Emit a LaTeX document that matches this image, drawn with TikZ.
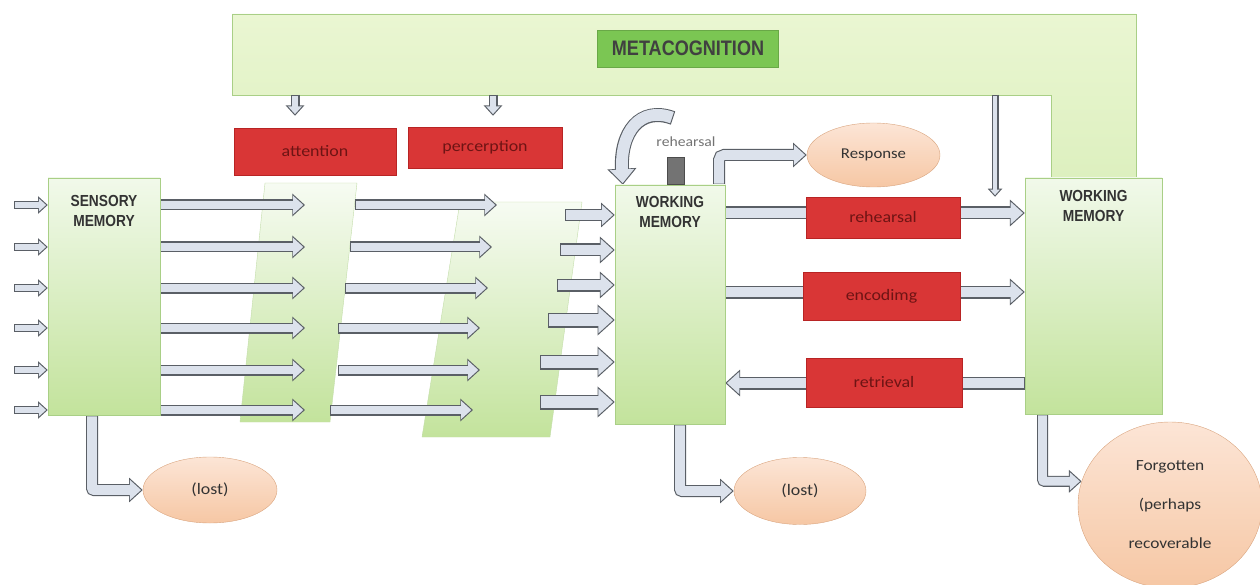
\documentclass[tikz,border=0pt]{standalone}
\usepackage{fontspec}
\setmainfont{Carlito}
\newfontfamily\labelfont{Carlito}[FakeStretch=1.12]
\newfontfamily\capsfont{Liberation Sans}[FakeStretch=0.86]
\usepackage{tikz}
\usetikzlibrary{arrows.meta, positioning, calc, shapes.geometric}

\definecolor{arrowfill}{HTML}{DCE2EC}
\definecolor{arrowedge}{HTML}{5A5F66}
\definecolor{gtop}{HTML}{F1F9EA}
\definecolor{gbot}{HTML}{C3E39C}
\definecolor{gedge}{HTML}{A9CF86}
\definecolor{redfill}{HTML}{D93636}
\definecolor{rededge}{HTML}{B82424}
\definecolor{redtext}{HTML}{6E1414}
\definecolor{peachtop}{HTML}{FCE5D6}
\definecolor{peachbot}{HTML}{F6C7A4}
\definecolor{peachedge}{HTML}{D9A47E}
\definecolor{metagreen}{HTML}{7BC653}
\definecolor{bandtop}{HTML}{EAF6D2}
\definecolor{bandbot}{HTML}{DDF0BF}

\pgfdeclarelayer{back}
\pgfdeclarelayer{mid}
\pgfsetlayers{back,mid,main}

\begin{document}
\begin{tikzpicture}[
        x=1pt, y=-1pt,
        membox/.style={rectangle, draw=gedge, top color=gtop, bottom color=gbot, inner sep=0pt},
        memtext/.style={font=\capsfont\bfseries\fontsize{16}{20}\selectfont, text=black!80, align=center},
        metabox/.style={rectangle, draw=metagreen!85!black, fill=metagreen, font=\capsfont\bfseries\fontsize{21}{24}\selectfont, text=black!75, minimum width=181pt, minimum height=37pt},
        process/.style={rectangle, draw=rededge, fill=redfill, font=\labelfont\fontsize{16}{19}\selectfont, text=redtext, inner sep=0pt},
        outcome/.style={ellipse, draw=peachedge, top color=peachtop, bottom color=peachbot, font=\labelfont\fontsize{16}{19}\selectfont, text=black!80, inner sep=0pt, align=center},
        stage/.style={draw=gedge!70, top color=gtop!60!white, bottom color=gbot},
        stub/.style={rectangle, draw=black!70, fill=black!55, minimum width=17pt, minimum height=27pt, inner sep=0pt},
        blockarrow/.style={draw=arrowfill, line width=#1-2.2,
            -{Triangle[length=0pt 1.15, width=0pt 2]}, shorten >=1.7pt, shorten <=1.1pt,
            preaction={draw=arrowedge, line width=#1, -{Triangle[length=0pt 1.15, width=0pt 2]}, shorten >=0pt, shorten <=0pt}},
        blockarrow/.default=11
    ]
    \useasboundingbox (0,0) rectangle (1260,585);

    % metacognition band and the two stages
    \begin{pgfonlayer}{back}
    \path[draw=gedge, top color=bandtop, bottom color=bandbot] (232,14) -- (1136,14) -- (1136,177) -- (1051,177) -- (1051,95) -- (232,95) -- cycle;
    \path[stage] (265,183) -- (357,183) -- (330,422) -- (240,422) -- cycle;
    \path[stage] (460,202) -- (582,202) -- (550,437) -- (422,437) -- cycle;
    \end{pgfonlayer}
    \coordinate (m1) at (295,95);
    \coordinate (m2) at (493,95);
    \coordinate (m3) at (995,95);
    \node[metabox] (meta) at (688,48.5) {METACOGNITION};

    \node[process, minimum width=162pt, minimum height=47pt] (attn) at (315,151.5) {attention};
    \node[process, minimum width=154pt, minimum height=41pt] (perc) at (485,147.5) {percerption};

    \node[membox, minimum width=112pt, minimum height=237pt] (sens) at (104,296.5) {};
    \node[memtext] (senstxt) at ($(sens.north)+(0,33)$) {SENSORY\\MEMORY};
    \node[membox, minimum width=110pt, minimum height=239pt] (wm) at (670,304.5) {};
    \node[memtext] (wmtxt) at ($(wm.north)+(0,27)$) {WORKING\\MEMORY};
    \node[membox, minimum width=137pt, minimum height=236pt] (rwm) at (1093.5,296) {};
    \node[memtext] (rwmtxt) at ($(rwm.north)+(0,28)$) {WORKING\\MEMORY};

    \node[process, minimum width=154pt, minimum height=41pt] (reh) at (883,217.5) {rehearsal};
    \node[process, minimum width=157pt, minimum height=48pt] (enc) at (881.5,296) {encodimg};
    \node[process, minimum width=156pt, minimum height=49pt] (retr) at (884,382.5) {retrieval};

    \node[outcome, minimum width=133pt, minimum height=64pt, font=\labelfont\fontsize{15}{18}\selectfont] (resp) at (873.5,155) {Response};
    \node[outcome, minimum width=134pt, minimum height=66pt] (lost1) at (210,490) {(lost)};
    \node[outcome, minimum width=132pt, minimum height=67pt] (lost2) at (800,491) {(lost)};
    \node[outcome, minimum width=184pt, minimum height=166pt, font=\labelfont\fontsize{15.5}{39}\selectfont] (forg) at (1170,505) {Forgotten\\(perhaps\\recoverable};

    \node[stub, anchor=south] (loopstub) at ($(wm.north)+(5.5,0)$) {};
    \coordinate (loopstart) at (673,118);
    \node[font=\labelfont\fontsize{14}{16}\selectfont, text=black!55] (rehlbl) at (686,142) {rehearsal};

    \begin{pgfonlayer}{mid}
    \foreach \y/\xa/\xb/\xc in {205/305/355/497, 247/305/350/492, 288/305/345/488, 328/305/338/480, 370/305/338/480, 410/305/330/473}{
        \draw[blockarrow=8.5] (14,\y) -- (sens.west |- 0,\y);
        \draw[blockarrow] (sens.east |- 0,\y) -- (\xa,\y);
        \draw[blockarrow] (\xb,\y) -- (\xc,\y);
    }
    \foreach \y/\x/\w in {215/565/12, 250/560/13, 285/557/13, 320/548/15, 362/540/15, 402/540/15}
        \draw[blockarrow=\w] (\x,\y) -- (wm.west |- 0,\y);

    \draw[blockarrow=9] (m1) -- ($(m1 |- attn.north)+(0,-12)$);
    \draw[blockarrow=9] (m2) -- ($(m2 |- perc.north)+(0,-11)$);
    \draw[blockarrow=7] (m3) -- (m3 |- reh.north);

    \draw[blockarrow=13] (wm.east |- 0,213) -- (rwm.west |- 0,213);
    \draw[blockarrow=13] (wm.east |- 0,292) -- (rwm.west |- 0,292);
    \draw[blockarrow=13] (rwm.west |- 0,383) -- (wm.east |- 0,383);

    \draw[blockarrow=12, rounded corners=5pt] ($(wm.north)+(49,0)$) |- (resp.west);
    \draw[blockarrow=14] (loopstart) .. controls (640,106) and (620,132) .. ($(wm.north west)+(8,0)$);

    \draw[blockarrow=12, rounded corners=2pt] ($(sens.south)+(-12,0)$) |- (lost1.west);
    \draw[blockarrow=12, rounded corners=2pt] ($(wm.south)+(10,0)$) |- (lost2.west);
    \draw[blockarrow=11, rounded corners=2pt] ($(rwm.south)+(-51,0)$) |- (forg.165);
    \end{pgfonlayer}
\end{tikzpicture}
\end{document}
